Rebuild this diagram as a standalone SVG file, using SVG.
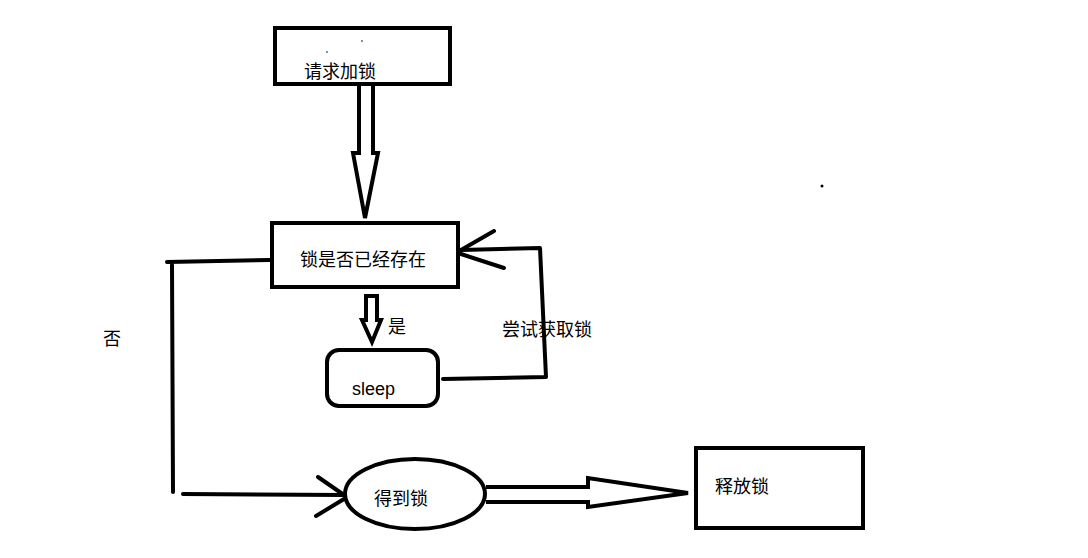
<svg xmlns="http://www.w3.org/2000/svg" width="1088" height="558" viewBox="0 0 1088 558">
<style>
.box{fill:#fff;stroke:#000;stroke-width:4}
.ln{fill:none;stroke:#000;stroke-width:4;stroke-linecap:round;stroke-linejoin:round}
.hol{fill:#fff;stroke:#000;stroke-width:4;stroke-linejoin:miter}
.t{font-family:"Noto Sans CJK SC","Liberation Sans",sans-serif;font-size:18px;fill:#000}
.s{font-family:"Liberation Sans",sans-serif;font-size:18px;fill:#000}
</style>
<rect width="1088" height="558" fill="#fff"/>
<g id="connectors">
  <path class="hol" d="M359,84 L359,153 L353,153 L365,218 L378,153 L373,153 L373,84"/>
  <path class="hol" d="M366,296 L366,320 L362,320 L372,342 L381,320 L377,320 L377,296 Z"/>
  <path class="ln" d="M167,262 L270,260"/>
  <path class="ln" d="M172,265 L173,492"/>
  <path class="ln" d="M183,494 L345,495"/>
  <path class="ln" d="M318,477 L344,495 M316,516 L344,499"/>
  <path class="ln" d="M443,379 L546,377 L540,248 L461,250"/>
  <path class="ln" d="M461,250 L494,231 M461,254 L504,268"/>
  <path class="hol" d="M486,487 L588,487 L588,478 L688,493 L588,507 L588,502 L486,502"/>
</g>
<g id="n1">
  <rect class="box" x="275" y="28" width="175" height="56"/>
  <text class="t" x="304" y="78">请求加锁</text>
</g>
<g id="n2">
  <rect class="box" x="272" y="223" width="186" height="64"/>
  <text class="t" x="300" y="266">锁是否已经存在</text>
</g>
<g id="n3">
  <rect class="box" x="327" y="350" width="111" height="56" rx="12" ry="12"/>
  <text class="s" x="352" y="395">sleep</text>
</g>
<g id="n4">
  <ellipse class="box" cx="415" cy="494" rx="70" ry="35"/>
  <text class="t" x="374" y="505">得到锁</text>
</g>
<g id="n5">
  <rect class="box" x="696" y="448" width="167" height="80"/>
  <text class="t" x="715" y="493">释放锁</text>
</g>
<g id="labels">
  <text class="t" x="388" y="333">是</text>
  <text class="t" x="502" y="336">尝试获取锁</text>
  <text class="t" x="103" y="345">否</text>
</g>
<g id="marks">
  <circle cx="822" cy="186" r="1.5" fill="#000"/>
  <circle cx="362" cy="41" r="0.8" fill="#000"/>
  <circle cx="327" cy="52" r="0.8" fill="#000"/>
</g>
</svg>
